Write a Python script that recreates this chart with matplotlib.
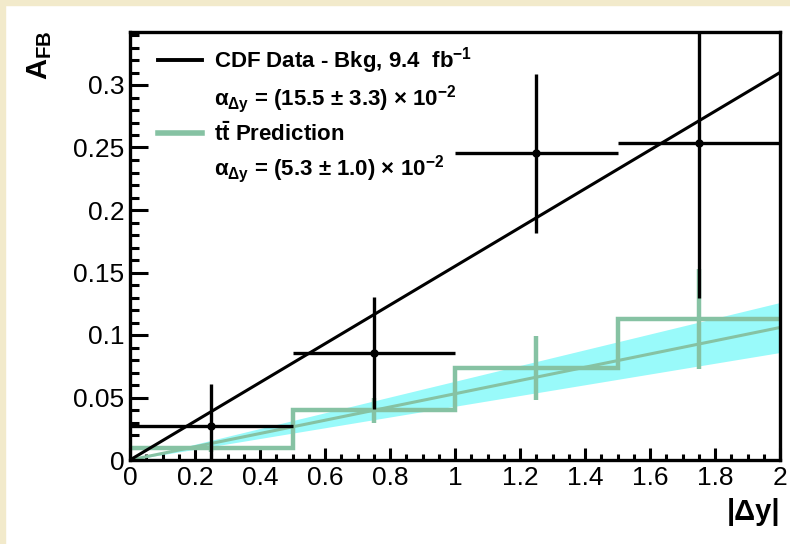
import matplotlib
matplotlib.use("Agg")
import matplotlib.pyplot as plt
import numpy as np
from matplotlib.lines import Line2D
from matplotlib.patches import Rectangle
from matplotlib.ticker import MultipleLocator, FormatStrFormatter

plt.rcParams['font.family'] = ['Liberation Sans', 'DejaVu Sans']
plt.rcParams['mathtext.fontset'] = 'custom'
plt.rcParams['mathtext.rm'] = 'Liberation Sans:bold'
plt.rcParams['mathtext.it'] = 'Liberation Sans:bold'
plt.rcParams['mathtext.bf'] = 'Liberation Sans:bold'

# bins in |dy|
bin_edges = [0.0, 0.5, 1.0, 1.5, 2.0]
bin_centers = [0.25, 0.75, 1.25, 1.75]

# CDF data - background
data_afb = [0.027, 0.0856, 0.2453, 0.2533]
data_err = [0.034, 0.045, 0.0635, 0.1235]

# ttbar prediction
pred_afb = [0.0093, 0.040, 0.0739, 0.1127]
pred_err = [0.003, 0.010, 0.0255, 0.040]

# linear fits A = alpha * |dy|
alpha_data = 0.155
alpha_pred = 0.053
alpha_pred_err = 0.010

fig = plt.figure(figsize=(7.9, 5.44), dpi=100)
fig.patch.set_facecolor('white')
beige = '#F2EACB'
fig.patches.append(Rectangle((0, 0), 5 / 790, 1, transform=fig.transFigure, color=beige, zorder=-10))
fig.patches.append(Rectangle((0, 1 - 5 / 544), 1, 5 / 544, transform=fig.transFigure, color=beige, zorder=-10))

ax = fig.add_axes([130 / 790, (544 - 460) / 544, 650 / 790, 428 / 544])

xfit = np.array([0.0, 2.0])
green = '#86C2A3'

# prediction band and fit
ax.fill_between(xfit, (alpha_pred - alpha_pred_err) * xfit, (alpha_pred + alpha_pred_err) * xfit,
                color='#99FAFA', lw=0, zorder=1)
ax.plot(xfit, alpha_pred * xfit, color=green, lw=2.2, zorder=2)
ax.stairs(pred_afb, bin_edges, baseline=None, color=green, lw=3.2, zorder=3)
ax.errorbar(bin_centers, pred_afb, yerr=pred_err, fmt='none', ecolor=green, elinewidth=3.2, capsize=0, zorder=3)

# data fit and points
ax.plot(xfit, alpha_data * xfit, color='black', lw=2.2, zorder=4)
ax.errorbar(bin_centers, data_afb, xerr=0.25, yerr=data_err, fmt='o', color='black', ms=5,
            elinewidth=2.4, capsize=0, zorder=5)

ax.set_xlim(0, 2)
ax.set_ylim(0, 0.3424)

ax.xaxis.set_major_locator(MultipleLocator(0.2))
ax.xaxis.set_minor_locator(MultipleLocator(0.05))
ax.yaxis.set_major_locator(MultipleLocator(0.05))
ax.yaxis.set_minor_locator(MultipleLocator(0.01))
ax.xaxis.set_major_formatter(FormatStrFormatter('%g'))
ax.yaxis.set_major_formatter(FormatStrFormatter('%g'))

ax.tick_params(axis='both', which='both', direction='in', width=2.2, labelsize=19, top=False, right=False)
ax.tick_params(axis='y', which='major', length=13, pad=4)
ax.tick_params(axis='y', which='minor', length=6.5)
ax.tick_params(axis='x', which='major', length=8.6, pad=4)
ax.tick_params(axis='x', which='minor', length=4.3)
for s in ax.spines.values():
    s.set_linewidth(2.4)
    s.set_zorder(10)

fig.text(40 / 790, 1 - 55 / 544, r'A$_{\mathregular{FB}}$', rotation=90, ha='center', va='center',
         fontsize=21, fontweight='bold')
fig.text(780 / 790, 1 - 512 / 544, '|Δy|', ha='right', va='center',
         fontsize=21, fontweight='bold')

handles = [Line2D([], [], color='black', lw=2.8),
           Line2D([], [], color='none'),
           Line2D([], [], color=green, lw=4),
           Line2D([], [], color='none')]
labels = [r'CDF Data - Bkg, 9.4  fb$^{\mathregular{-1}}$',
          r'$\alpha_{\Delta y}$ = (15.5 $\pm$ 3.3) $\times$ 10$^{\mathregular{-2}}$',
          r't$\bar{\mathregular{t}}$ Prediction',
          r'$\alpha_{\Delta y}$ = (5.3 $\pm$ 1.0) $\times$ 10$^{\mathregular{-2}}$']
leg = ax.legend(handles, labels, loc='upper left', bbox_to_anchor=(28 / 650, 1 - 13 / 428), frameon=False,
                borderpad=0, borderaxespad=0,
                handlelength=2.0, handletextpad=0.5, labelspacing=0.32,
                prop={'weight': 'bold', 'size': 16})

fig.savefig('out.png', dpi=100)
